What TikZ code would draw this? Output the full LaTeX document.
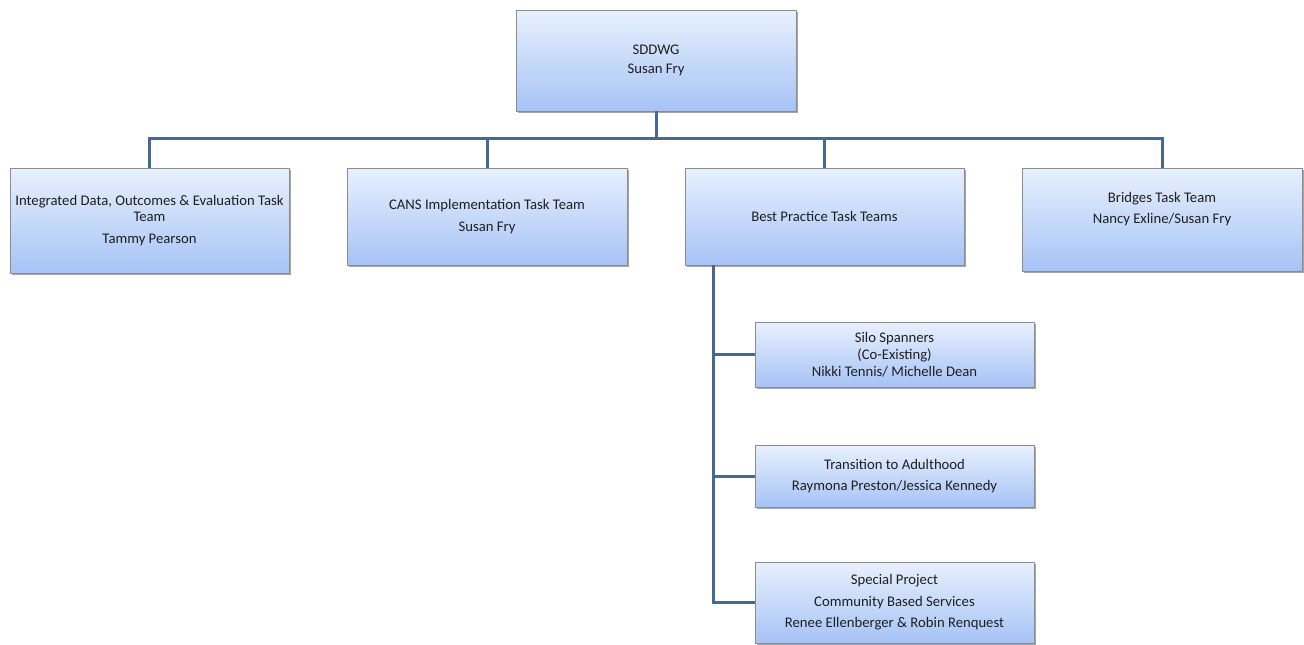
\documentclass[tikz,border=0pt]{standalone}
\usepackage{fontspec}
\setmainfont{Carlito}
\usetikzlibrary{shadows}
\definecolor{boxtop}{HTML}{E8F0FD}
\definecolor{boxbot}{HTML}{A6C3F6}
\definecolor{boxline}{HTML}{8C8C8C}
\definecolor{connc}{HTML}{46698F}
\definecolor{txt}{HTML}{1F1F1F}
\begin{document}
\begin{tikzpicture}[x=1pt,y=-1pt,
  orgbox/.style={draw=boxline, line width=0.8pt, top color=boxtop, bottom color=boxbot,
    align=center, text=txt, inner sep=2pt,
    font=\fontsize{14.7}{16}\selectfont,
    drop shadow={shadow xshift=2pt, shadow yshift=-2pt, opacity=0.35, fill=black}},
  conn/.style={draw=connc, line width=3pt, line join=miter}]
\useasboundingbox[fill=white] (0,0) rectangle (1304,645);
% boxes
\node[orgbox, minimum width=280pt, minimum height=101pt] (top) at (656,60.5) {SDDWG\\[3pt]Susan Fry};
\node[orgbox, minimum width=279pt, minimum height=105pt] (b1) at (149.5,220.5) {Integrated Data, Outcomes \& Evaluation Task\\Team\\[6pt]Tammy Pearson};
\node[orgbox, minimum width=280pt, minimum height=97pt] (b2) at (487,216.5) {CANS Implementation Task Team\\[6pt]Susan Fry};
\node[orgbox, minimum width=279pt, minimum height=97pt] (b3) at (824.5,216.5) {Best Practice Task Teams};
\node[orgbox, minimum width=280pt, minimum height=103pt] (b4) at (1162,219.5) {Bridges Task Team\\[5pt]Nancy Exline/Susan Fry\\[8pt]\mbox{}};
\node[orgbox, minimum width=279pt, minimum height=65pt] (s1) at (894.5,354.5) {Silo Spanners\\[1pt](Co-Existing)\\[1pt]Nikki Tennis/ Michelle Dean};
\node[orgbox, minimum width=279pt, minimum height=62pt] (s2) at (894.5,476) {Transition to Adulthood\\[5pt]Raymona Preston/Jessica Kennedy};
\node[orgbox, minimum width=279pt, minimum height=81pt] (s3) at (894.5,602.5) {Special Project\\[5.5pt]Community Based Services\\[5.5pt]Renee Ellenberger \& Robin Renquest};
% connector helpers
\coordinate (bus) at (0,138);
\coordinate (spine) at (713,0);
% connectors
\draw[conn] (top.south) -- (top.south |- bus);
\draw[conn] (b1.north) -- (b1.north |- bus) -- (b4.north |- bus) -- (b4.north);
\draw[conn] (b2.north |- bus) -- (b2.north);
\draw[conn] (b3.north |- bus) -- (b3.north);
\draw[conn] (b3.south -| spine) -- (spine |- s3.west) -- (s3.west);
\draw[conn] (spine |- s1.west) -- (s1.west);
\draw[conn] (spine |- s2.west) -- (s2.west);
\end{tikzpicture}
\end{document}
